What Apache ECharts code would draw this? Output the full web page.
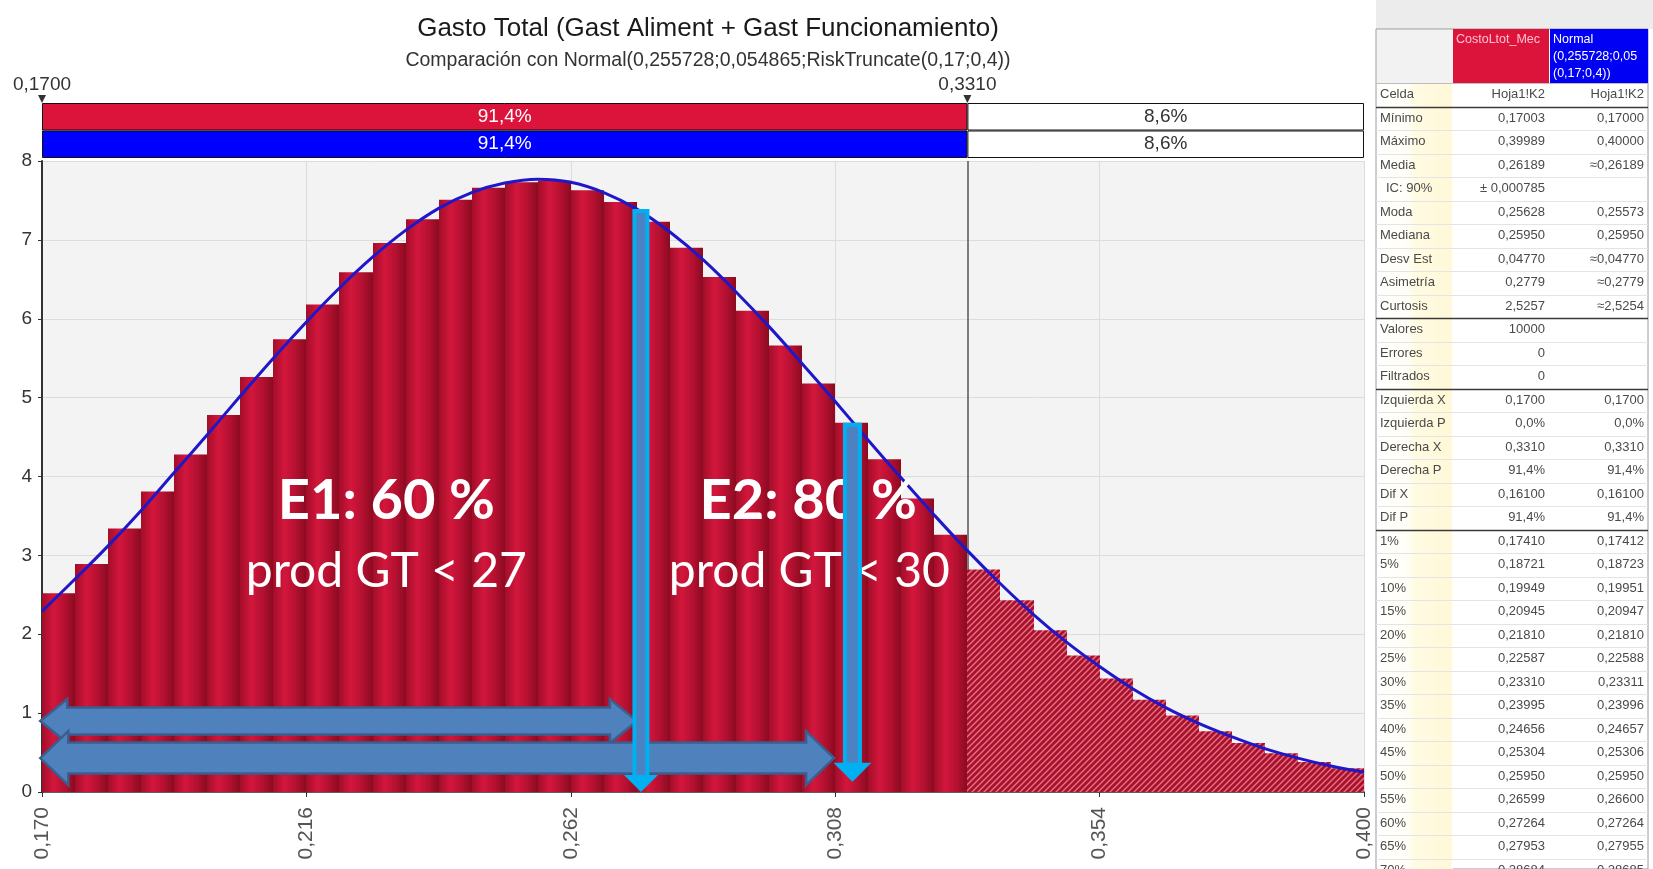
<!DOCTYPE html>
<html><head><meta charset="utf-8">
<script src="https://cdn.jsdelivr.net/npm/echarts@6/dist/echarts.min.js"></script>
<style>html,body{margin:0;padding:0;background:#fff}#c{width:1653px;height:869px}</style>
</head><body><div id="c"></div>
<script>
// ---------------- DATA ----------------
const titleText = 'Gasto Total (Gast Aliment + Gast Funcionamiento)';
const subtitleText = 'Comparación con Normal(0,255728;0,054865;RiskTruncate(0,17;0,4))';
const xMin = 0.170, xMax = 0.400;
const xTickLabels = ['0,170','0,216','0,262','0,308','0,354','0,400'];
const cutLeft = 0.1700, cutRight = 0.3310;
const cutLabels = ['0,1700','0,3310'];
const pctBelow = [91.4, 91.4];   // red row, blue row
const pctAbove = [8.6, 8.6];
const binEdges = [0.17000,0.17575,0.18150,0.18725,0.19300,0.19875,0.20450,0.21025,0.21600,0.22175,
  0.22750,0.23325,0.23900,0.24475,0.25050,0.25625,0.26200,0.26775,0.27350,0.27925,
  0.28500,0.29075,0.29650,0.30225,0.30800,0.31375,0.31950,0.32525,0.33100,0.33675,
  0.34250,0.34825,0.35400,0.35975,0.36550,0.37125,0.37700,0.38275,0.38850,0.39425,0.40000];
const binHeights = [2.52,2.89,3.34,3.81,4.28,4.78,5.26,5.74,6.18,6.59,
  6.96,7.26,7.51,7.66,7.73,7.75,7.63,7.48,7.23,6.90,
  6.53,6.10,5.66,5.18,4.68,4.22,3.72,3.26,2.82,2.43,
  2.05,1.73,1.44,1.17,0.97,0.77,0.62,0.49,0.38,0.30];
const curveX = binEdges;
const curveY = [2.29,2.70,3.12,3.57,4.05,4.53,5.02,5.50,5.96,6.39,
  6.78,7.12,7.40,7.60,7.72,7.77,7.73,7.60,7.39,7.10,
  6.75,6.34,5.90,5.43,4.95,4.46,3.98,3.51,3.06,2.64,
  2.25,1.90,1.59,1.31,1.07,0.87,0.70,0.55,0.43,0.33,0.25];
// annotations (data coordinates)
const annotTexts = [
  {text:'E1: 60 %', x:0.2299, y:3.69, bold:true},
  {text:'prod GT < 27', x:0.2299, y:2.80, bold:false},
  {text:'E2: 80 %', x:0.3033, y:3.69, bold:true},
  {text:'prod GT < 30', x:0.3035, y:2.80, bold:false}
];
const vArrows = [ {x:0.2742, yTop:7.39, yTip:0.00}, {x:0.3110, yTop:4.68, yTip:0.13} ];
const hArrows = [ {x1:0.1697, x2:0.2735, y:0.90}, {x1:0.1697, x2:0.3078, y:0.43} ];
// statistics table
const tableColHeads = ['CostoLtot_Mec', 'Normal|(0,255728;0,05|(0,17;0,4))'];
const rowLabels = ['Celda','Mínimo','Máximo','Media','IC: 90%','Moda','Mediana','Desv Est','Asimetría','Curtosis',
  'Valores','Errores','Filtrados','Izquierda X','Izquierda P','Derecha X','Derecha P','Dif X','Dif P',
  '1%','5%','10%','15%','20%','25%','30%','35%','40%','45%','50%','55%','60%','65%','70%'];
const colSim = ['Hoja1!K2','0,17003','0,39989','0,26189','± 0,000785','0,25628','0,25950','0,04770','0,2779','2,5257',
  '10000','0','0','0,1700','0,0%','0,3310','91,4%','0,16100','91,4%',
  '0,17410','0,18721','0,19949','0,20945','0,21810','0,22587','0,23310','0,23995','0,24656','0,25304','0,25950','0,26599','0,27264','0,27953','0,28684'];
const colFit = ['Hoja1!K2','0,17000','0,40000','≈0,26189','','0,25573','0,25950','≈0,04770','≈0,2779','≈2,5254',
  '','','','0,1700','0,0%','0,3310','91,4%','0,16100','91,4%',
  '0,17412','0,18723','0,19951','0,20947','0,21810','0,22588','0,23311','0,23996','0,24657','0,25306','0,25950','0,26600','0,27264','0,27955','0,28685'];
const thickAfter = [0, 9, 12, 18];

// ---------------- HELPERS ----------------
const X0 = xMin;
const tx = v => Math.round((v - X0) * 100000) / 100;   // thousandths offset from 0.170
const fmtPct = v => v.toFixed(1).replace('.', ',') + '%';
const FONT = "'Liberation Sans', Arial, sans-serif";

function makeHatch(){
  const c = document.createElement('canvas'); c.width = 6; c.height = 6;
  const g = c.getContext('2d');
  g.fillStyle = '#a3132b'; g.fillRect(0,0,6,6);
  g.strokeStyle = '#ee6a82'; g.lineWidth = 1.5;
  g.beginPath();
  g.moveTo(0,6); g.lineTo(6,0);
  g.moveTo(-3,3); g.lineTo(3,-3);
  g.moveTo(3,9); g.lineTo(9,3);
  g.stroke();
  return c;
}
const hatch = makeHatch();

const histData = binHeights.map((h,i) => [tx(binEdges[i]), tx(binEdges[i+1]), h, binEdges[i] >= cutRight - 1e-9 ? 1 : 0]);

const chart = echarts.init(document.getElementById('c'));
const option = {
  animation: false,
  backgroundColor: '#ffffff',
  textStyle: {fontFamily: FONT},
  title: [
    {text: titleText, left: 703, top: 11, textAlign: 'center', textStyle: {fontSize: 26, fontWeight: 'normal', color: '#1a1a1a', fontFamily: FONT}},
    {text: subtitleText, left: 703, top: 46, textAlign: 'center', textStyle: {fontSize: 19.5, fontWeight: 'normal', color: '#333', fontFamily: FONT}}
  ],
  grid: [
    {left: 42, top: 161, width: 1322, height: 631, show: true, backgroundColor: '#f3f3f3', borderWidth: 0},
    {left: 42, top: 103, width: 1322, height: 55, show: false}
  ],
  xAxis: [
    {gridIndex: 0, type: 'value', min: 0, max: tx(xMax), interval: 46,
     axisLine: {show: true, lineStyle: {color: '#333', width: 1.5}},
     axisTick: {show: true, length: 5, lineStyle: {color: '#333'}},
     splitLine: {show: true, lineStyle: {color: '#dcdcdc'}},
     axisLabel: {rotate: 90, margin: 15, fontSize: 21, color: '#555', showMinLabel: true, showMaxLabel: true,
       formatter: (v) => { const i = Math.round(v / 46); return xTickLabels[i] !== undefined ? xTickLabels[i] : ''; }}},
    {gridIndex: 1, type: 'value', min: 0, max: tx(xMax), show: false}
  ],
  yAxis: [
    {gridIndex: 0, type: 'value', min: 0, max: 8, interval: 1,
     axisLine: {show: true, lineStyle: {color: '#333', width: 2}},
     axisTick: {show: true, length: 4, lineStyle: {color: '#333'}},
     splitLine: {show: true, lineStyle: {color: '#dcdcdc'}},
     axisLabel: {fontSize: 19, color: '#333', margin: 10}},
    {gridIndex: 1, type: 'category', data: ['sim', 'fit'], inverse: true, show: false}
  ],
  series: [
    {type: 'custom', xAxisIndex: 0, yAxisIndex: 0, data: histData, encode: {x: [0, 1], y: 2}, z: 2,
     renderItem: function(params, api){
       const p0 = api.coord([api.value(0), api.value(2)]);
       const p1 = api.coord([api.value(1), 0]);
       const x0 = Math.round(p0[0]), x1 = Math.round(p1[0]);
       const hatched = api.value(3) === 1;
       const fill = hatched ? {image: hatch, repeat: 'repeat'} :
         new echarts.graphic.LinearGradient(0, 0, 1, 0, [
           {offset: 0, color: '#a20e29'}, {offset: 0.35, color: '#d3163c'}, {offset: 0.7, color: '#b31030'}, {offset: 1, color: '#8a0b20'}]);
       return {type: 'rect', shape: {x: x0, y: p0[1], width: x1 - x0, height: p1[1] - p0[1]}, style: {fill: fill}};
     }},
    {type: 'line', xAxisIndex: 0, yAxisIndex: 0, z: 6, smooth: 0.4, showSymbol: false, symbol: 'none',
     data: curveX.map((x, i) => [tx(x), curveY[i]]),
     lineStyle: {color: '#1f17c8', width: 3},
     markLine: {silent: true, symbol: 'none', label: {show: false}, z: 1,
       lineStyle: {color: '#555', width: 1.5, type: 'solid'},
       data: [{xAxis: tx(cutRight)}]}},
    {type: 'bar', xAxisIndex: 1, yAxisIndex: 1, stack: 'p', barCategoryGap: '0%',
     data: [{value: tx(cutRight) - tx(cutLeft), itemStyle: {color: '#dc143c'}}, {value: tx(cutRight) - tx(cutLeft), itemStyle: {color: '#0000ff'}}],
     itemStyle: {borderColor: '#111', borderWidth: 1},
     label: {show: true, position: 'inside', color: '#ffffff', fontSize: 19, fontFamily: FONT, formatter: p => fmtPct(pctBelow[p.dataIndex])}},
    {type: 'bar', xAxisIndex: 1, yAxisIndex: 1, stack: 'p', barCategoryGap: '0%',
     data: [tx(xMax) - tx(cutRight), tx(xMax) - tx(cutRight)],
     itemStyle: {color: '#ffffff', borderColor: '#111', borderWidth: 1},
     label: {show: true, position: 'inside', color: '#333', fontSize: 19, fontFamily: FONT, formatter: p => fmtPct(pctAbove[p.dataIndex])}}
  ]
};
chart.setOption(option);

// ---------------- ANNOTATIONS & TABLE ----------------
const P = (x, y) => chart.convertToPixel({gridIndex: 0}, [tx(x), y]);
const g = [];

// cut markers above top bars
[cutLeft, cutRight].forEach((c, i) => {
  const px = P(c, 0)[0];
  g.push({type: 'polygon', shape: {points: [[px - 4, 95], [px + 4, 95], [px, 103]]}, style: {fill: '#333'}, z: 20});
  g.push({type: 'text', style: {text: cutLabels[i], x: px, y: 85, align: 'center', verticalAlign: 'middle', fontSize: 19, fontFamily: FONT, fill: '#333'}, z: 20});
});

// annotation texts
annotTexts.forEach(a => {
  const p = P(a.x, a.y);
  g.push({type: 'text', z: 30, style: {text: a.text, x: p[0], y: p[1], align: 'center', verticalAlign: 'middle',
    fontFamily: "Lato, 'Open Sans', sans-serif", fontWeight: a.bold ? 'bold' : 'normal', fontSize: a.bold ? 56 : 48, fill: '#ffffff'}});
});

// horizontal double arrows
const hSizes = [{body: 27, head: 44, len: 27}, {body: 31, head: 54, len: 28}];
hArrows.forEach((a, i) => {
  const p1 = P(a.x1, a.y), p2 = P(a.x2, a.y);
  const x1 = p1[0], x2 = p2[0], cy = p1[1], s = hSizes[i];
  const pts = [[x1, cy], [x1 + s.len, cy - s.head / 2], [x1 + s.len, cy - s.body / 2], [x2 - s.len, cy - s.body / 2],
    [x2 - s.len, cy - s.head / 2], [x2, cy], [x2 - s.len, cy + s.head / 2], [x2 - s.len, cy + s.body / 2],
    [x1 + s.len, cy + s.body / 2], [x1 + s.len, cy + s.head / 2]];
  g.push({type: 'polygon', z: 40 + i, shape: {points: pts}, style: {fill: '#4f81bd', stroke: '#3a5f8e', lineWidth: 2.5}});
});

// vertical arrows
const vSizes = [{w: 17, hw: 34, hl: 17}, {w: 19, hw: 38, hl: 19}];
vArrows.forEach((a, i) => {
  const pt = P(a.x, a.yTop), pb = P(a.x, a.yTip);
  const cx = pt[0], yt = pt[1], yb = pb[1], s = vSizes[i];
  g.push({type: 'rect', z: 50, shape: {x: cx - s.w / 2, y: yt, width: s.w, height: yb - s.hl - yt + 1}, style: {fill: '#00b0f0'}});
  g.push({type: 'rect', z: 51, shape: {x: cx - s.w / 2 + 4, y: yt + 4, width: s.w - 8, height: yb - s.hl - yt - 4}, style: {fill: '#4a82c4'}});
  g.push({type: 'polygon', z: 52, shape: {points: [[cx - s.hw / 2, yb - s.hl], [cx + s.hw / 2, yb - s.hl], [cx, yb]]}, style: {fill: '#00b0f0'}});
});

// statistics table
const TL = 1376, TR = 1648, C1 = 1453, C2 = 1550, TOP = 29, HEAD = 83, ROWH = 23.5, R0 = 94.9;
g.push({type: 'rect', z: 1, shape: {x: TL, y: 0, width: 1653 - TL, height: TOP}, style: {fill: '#ececec'}});
g.push({type: 'rect', z: 1, shape: {x: TL, y: TOP, width: TR - TL, height: 869 - TOP}, style: {fill: '#ffffff', stroke: '#9a9a9a', lineWidth: 1}});
g.push({type: 'rect', z: 2, shape: {x: TL + 1, y: TOP + 1, width: C1 - TL - 1, height: HEAD - TOP - 1}, style: {fill: '#f2f2f2'}});
g.push({type: 'rect', z: 2, shape: {x: TL + 1, y: HEAD, width: C1 - TL - 1, height: 869 - HEAD},
  style: {fill: new echarts.graphic.LinearGradient(0, 0, 1, 0, [{offset: 0, color: '#ffffff'}, {offset: 0.4, color: '#fffef6'}, {offset: 0.5, color: '#fffbe2'}, {offset: 0.97, color: '#fff8d8'}, {offset: 1, color: '#ffffff'}])}});
g.push({type: 'rect', z: 2, shape: {x: C1, y: TOP, width: C2 - C1 - 1, height: HEAD - TOP}, style: {fill: '#dc143c'}});
g.push({type: 'rect', z: 2, shape: {x: C2, y: TOP, width: TR - C2, height: HEAD - TOP}, style: {fill: '#0000f5'}});
g.push({type: 'text', z: 3, style: {text: tableColHeads[0], x: C1 + 3, y: 40, verticalAlign: 'middle', fontSize: 12.5, fontFamily: FONT, fill: '#ffc2cf'}});
tableColHeads[1].split('|').forEach((t, k) => {
  g.push({type: 'text', z: 3, style: {text: t, x: C2 + 3, y: 40 + k * 17, verticalAlign: 'middle', fontSize: 12.5, fontFamily: FONT, fill: '#ffffff'}});
});
rowLabels.forEach((lab, i) => {
  const cy = R0 + i * ROWH;
  g.push({type: 'text', z: 3, style: {text: lab, x: lab.indexOf('IC') === 0 ? TL + 10 : TL + 4, y: cy, verticalAlign: 'middle', fontSize: 13, fontFamily: FONT, fill: '#4a4a4a'}});
  if (colSim[i]) g.push({type: 'text', z: 3, style: {text: colSim[i], x: 1545, y: cy, align: 'right', verticalAlign: 'middle', fontSize: 13, fontFamily: FONT, fill: '#4a4a4a'}});
  if (colFit[i]) g.push({type: 'text', z: 3, style: {text: colFit[i], x: 1644, y: cy, align: 'right', verticalAlign: 'middle', fontSize: 13, fontFamily: FONT, fill: '#4a4a4a'}});
  const ly = Math.round(cy + ROWH / 2) + 0.5;
  const thick = thickAfter.indexOf(i) >= 0;
  g.push({type: 'line', z: 4, shape: {x1: TL, y1: ly, x2: TR, y2: ly}, style: {stroke: thick ? '#3a3a3a' : '#e4e4e4', lineWidth: thick ? 1.5 : 1}});
});
g.push({type: 'line', z: 4, shape: {x1: TL, y1: HEAD + 0.5, x2: TR, y2: HEAD + 0.5}, style: {stroke: '#bdbdbd', lineWidth: 1}});

chart.setOption({graphic: g});
</script>
</body></html>
